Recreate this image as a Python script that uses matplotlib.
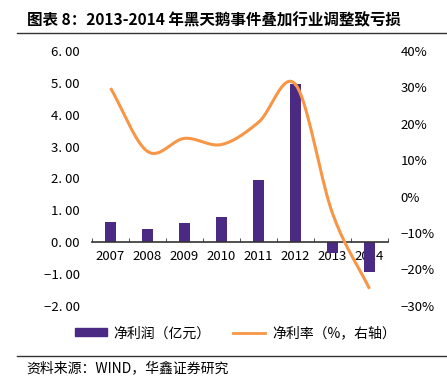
import matplotlib.pyplot as plt
import numpy as np
from matplotlib.lines import Line2D
from matplotlib.patches import Patch

plt.rcParams["font.family"] = ["Noto Sans CJK SC", "DejaVu Sans"]

years = ["2007", "2008", "2009", "2010", "2011", "2012", "2013", "2014"]
profit = [0.63, 0.41, 0.59, 0.80, 1.94, 4.95, -0.35, -0.95]  # 亿元
margin = [29.8, 12.4, 16.0, 14.3, 20.4, 30.8, -4.6, -25.3]  # %

BAR_COLOR = "#4B2A84"
LINE_COLOR = "#F79646"


def smooth(xs, ys, n=20):
    # catmull-rom style smoothing, like the office "smoothed line" option
    xs = np.asarray(xs, float)
    ys = np.asarray(ys, float)
    px = np.concatenate([[2 * xs[0] - xs[1]], xs, [2 * xs[-1] - xs[-2]]])
    py = np.concatenate([[2 * ys[0] - ys[1]], ys, [2 * ys[-1] - ys[-2]]])
    out_x, out_y = [], []
    t = np.linspace(0, 1, n)
    for i in range(1, len(px) - 2):
        for p, out in ((px, out_x), (py, out_y)):
            p0, p1, p2, p3 = p[i - 1], p[i], p[i + 1], p[i + 2]
            out.extend(0.5 * ((2 * p1) + (-p0 + p2) * t
                              + (2 * p0 - 5 * p1 + 4 * p2 - p3) * t ** 2
                              + (-p0 + 3 * p1 - 3 * p2 + p3) * t ** 3))
    return out_x, out_y


fig = plt.figure(figsize=(4.47, 3.80), dpi=100)
ax = fig.add_axes([0.206, 0.195, 0.662, 0.671])
ax2 = ax.twinx()

x = np.arange(len(years))
ax.bar(x, profit, width=0.32, color=BAR_COLOR, zorder=2)
sx, sy = smooth(x, margin)
ax2.plot(sx, sy, color=LINE_COLOR, lw=2.2, solid_capstyle="butt", zorder=3)

ax.set_xlim(-0.5, len(years) - 0.5)
ax.set_ylim(-2, 6)
ax2.set_ylim(-30, 40)

for a in (ax, ax2):
    for s in ("top", "left", "right"):
        a.spines[s].set_visible(False)
ax2.spines["bottom"].set_visible(False)
ax.spines["bottom"].set_position(("data", 0))
ax.spines["bottom"].set_color("#333333")
ax.spines["bottom"].set_linewidth(1.2)

ax.set_xticks(x)
ax.set_xticklabels(years)
ax.set_xticks(np.arange(len(years) + 1) - 0.5, minor=True)
ax.tick_params(axis="x", which="major", length=0, pad=6, labelsize=9.5)
ax.tick_params(axis="x", which="minor", length=3, direction="in", color="#333333")

ax.set_yticks(np.arange(-2, 7))
ax.set_yticklabels([("−" if v < 0 else "") + "%d. 00" % abs(v) for v in range(-2, 7)])
ax.tick_params(axis="y", length=0, pad=9, labelsize=9.5)

ax2.set_yticks(np.arange(-30, 41, 10))
ax2.set_yticklabels([("−" if v < 0 else "") + "%d%%" % abs(v) for v in range(-30, 41, 10)])
ax2.tick_params(axis="y", length=0, pad=9, labelsize=9.5)

# title and source with rules
fig.text(0.06, 0.947, "图表 8：2013-2014 年黑天鹅事件叠加行业调整致亏损",
         fontsize=11.2, fontweight="bold", va="center", ha="left")
fig.add_artist(Line2D([0.038, 1.0], [0.913, 0.913], color="#333333", lw=1))
fig.add_artist(Line2D([0.038, 1.0], [0.063, 0.063], color="#333333", lw=1))
fig.text(0.06, 0.032, "资料来源：WIND，华鑫证券研究", fontsize=10, va="center", ha="left")

handles = [Patch(color=BAR_COLOR), Line2D([], [], color=LINE_COLOR, lw=2)]
fig.legend(handles, ["净利润（亿元）", "净利率（%，右轴）"], loc="center",
           bbox_to_anchor=(0.526, 0.123), ncol=2, frameon=False, fontsize=10,
           handlelength=2.3, handleheight=0.5, columnspacing=1.6, handletextpad=0.5)

fig.savefig("out.png", dpi=100)
